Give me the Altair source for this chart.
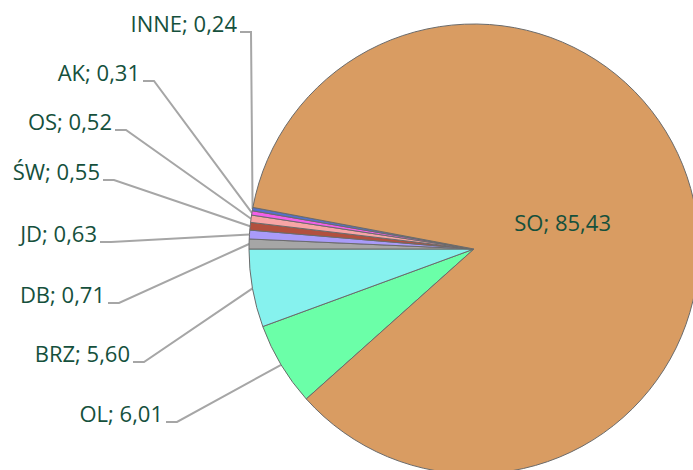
import math
import altair as alt
import pandas as pd

# ---- data ----
names = ["OL", "BRZ", "DB", "JD", "ŚW", "OS", "AK", "INNE", "SO"]
values = [6.01, 5.60, 0.71, 0.63, 0.55, 0.52, 0.31, 0.24, 85.43]
colors = ["#6BFFA8", "#86F2EE", "#A6A6A6", "#A99BF9", "#B2503E",
          "#F7A5A5", "#F25FE9", "#5470CC", "#D99C62"]

# ---- layout (label placement for the outside labels: right end, baseline) ----
label_x = [163, 130, 105, 97, 100, 112, 140, 237]
label_y = [422, 362, 303, 242, 180, 130, 81, 32]

W, H = 693, 470
CX, CY, R = 474, 249, 225
total = sum(values)

# pie starts so that OL+BRZ end at 9 o'clock
start = 1.5 * math.pi - 2 * math.pi * (values[0] + values[1]) / total

labels = [f"{n}; {v:.2f}".replace(".", ",") for n, v in zip(names, values)]
pie = pd.DataFrame({"name": names, "value": values, "order": range(len(names)),
                    "label": labels})

# mid angles for leader lines / inner label
cum = 0.0
mids = []
for v in values:
    mids.append(start + 2 * math.pi * (cum + v / 2) / total)
    cum += v

rows = []
for i in range(len(label_x)):
    a = mids[i]
    px = CX + R * math.sin(a)
    py = CY - R * math.cos(a)
    rows += [
        {"name": names[i], "seq": 0, "x": label_x[i] + 3, "y": label_y[i]},
        {"name": names[i], "seq": 1, "x": label_x[i] + 14, "y": label_y[i]},
        {"name": names[i], "seq": 2, "x": px, "y": py},
    ]
leaders = pd.DataFrame(rows)

outside = pd.DataFrame({"label": labels[:-1], "x": label_x, "y": label_y})
a_so = mids[-1]
inside = pd.DataFrame({"label": [labels[-1]],
                       "x": [CX + 92 * math.sin(a_so)],
                       "y": [CY - 92 * math.cos(a_so)]})

xs = alt.Scale(domain=[0, W], range=[0, W])
ys = alt.Scale(domain=[0, H], range=[0, H])

FONT = "Open Sans"
FS = 22
TXT = "#15503C"

arcs = alt.Chart(pie).mark_arc(outerRadius=R, stroke="#6b6b6b", strokeWidth=1).encode(
    theta=alt.Theta("value:Q", stack=True,
                    scale=alt.Scale(range=[start, start + 2 * math.pi])),
    order=alt.Order("order:Q"),
    color=alt.Color("name:N", scale=alt.Scale(domain=names, range=colors), legend=None),
    x=alt.value(CX),
    y=alt.value(CY),
)

lines = alt.Chart(leaders).mark_line(color="#A6A6A6", strokeWidth=2).encode(
    x=alt.X("x:Q", scale=xs, axis=None),
    y=alt.Y("y:Q", scale=ys, axis=None),
    detail="name:N",
    order="seq:Q",
)

txt_out = alt.Chart(outside).mark_text(
    align="right", baseline="alphabetic", font=FONT, fontSize=FS, fontWeight=500,
    color=TXT
).encode(x=alt.X("x:Q", scale=xs, axis=None), y=alt.Y("y:Q", scale=ys, axis=None),
         text="label:N")

txt_in = alt.Chart(inside).mark_text(
    align="center", baseline="middle", font=FONT, fontSize=FS, fontWeight=500,
    color=TXT
).encode(x=alt.X("x:Q", scale=xs, axis=None), y=alt.Y("y:Q", scale=ys, axis=None),
         text="label:N")

chart = alt.layer(lines, arcs, txt_out, txt_in).properties(
    width=W, height=H, autosize=alt.AutoSizeParams(type="none"), padding=0,
    background="white",
).configure_view(stroke=None)

chart.save("out.html", embed_options={"renderer": "svg", "actions": False})
